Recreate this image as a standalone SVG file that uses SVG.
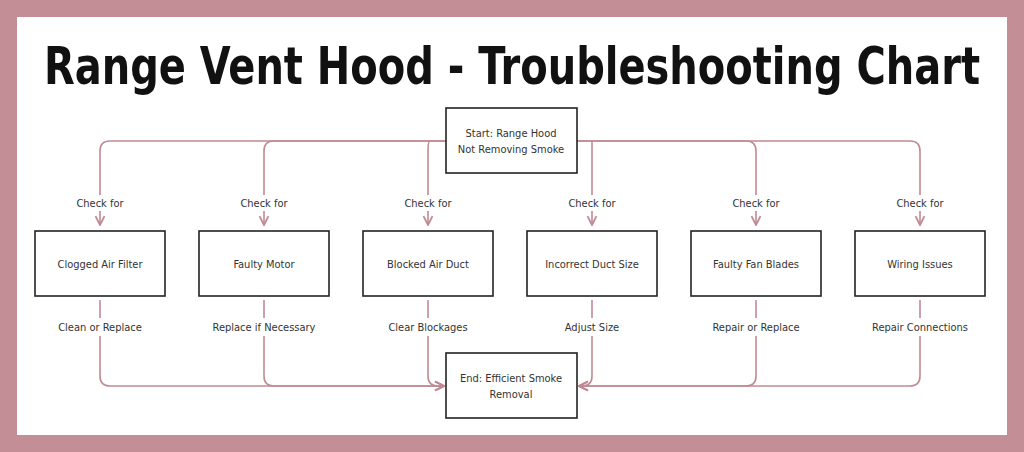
<svg xmlns="http://www.w3.org/2000/svg" width="1024" height="452" viewBox="0 0 1024 452">
<defs>
<style>
.n rect{fill:#fff;stroke:#222;stroke-width:1.6}
.n text,.l{font-family:"DejaVu Sans Condensed","Liberation Sans",sans-serif;font-size:11px;fill:#333;text-anchor:middle}
.c path{fill:none;stroke:#c08a93;stroke-width:1.6}
.t{font-family:"DejaVu Sans Condensed","Liberation Sans Narrow","Liberation Sans",sans-serif;font-weight:bold;font-size:52px;fill:#111;text-anchor:middle}
</style>
<marker id="a" viewBox="0 0 10 10" refX="9" refY="5" markerWidth="7" markerHeight="7" orient="auto"><path d="M1,1 L9,5 L1,9" fill="none" stroke="#c08a93" stroke-width="1.6"/></marker>
</defs>
<rect width="1024" height="452" fill="#c48e97"/>
<rect x="17" y="17" width="990" height="418" fill="#fff"/>
<text x="512" y="84" class="t" textLength="936" lengthAdjust="spacingAndGlyphs">Range Vent Hood - Troubleshooting Chart</text>
<g class="c">
<path d="M446,141 H110 Q100,141 100,151 V195"/>
<path d="M446,141 H274 Q264,141 264,151 V195"/>
<path d="M430,141 Q428,141 428,151 V195"/>
<path d="M577,141 H910 Q920,141 920,151 V195"/>
<path d="M577,141 H746 Q756,141 756,151 V195"/>
<path d="M592,141 Q592,141 592,151 V195"/>
<path d="M100,211 V225" marker-end="url(#a)"/><path d="M264,211 V225" marker-end="url(#a)"/><path d="M428,211 V225" marker-end="url(#a)"/><path d="M592,211 V225" marker-end="url(#a)"/><path d="M756,211 V225" marker-end="url(#a)"/><path d="M920,211 V225" marker-end="url(#a)"/>
<path d="M100,300 V318"/><path d="M264,300 V318"/><path d="M428,300 V318"/><path d="M592,300 V318"/><path d="M756,300 V318"/><path d="M920,300 V318"/>
<path d="M100,336 V376 Q100,386 110,386 H444" marker-end="url(#a)"/>
<path d="M264,336 V376 Q264,386 274,386 H444" marker-end="url(#a)"/>
<path d="M428,336 V376 Q428,386 438,386 H444" marker-end="url(#a)"/>
<path d="M920,336 V376 Q920,386 910,386 H579" marker-end="url(#a)"/>
<path d="M756,336 V376 Q756,386 746,386 H579" marker-end="url(#a)"/>
<path d="M592,336 V376 Q592,386 582,386 H579" marker-end="url(#a)"/>
</g>
<g class="l">
<text x="100" y="207" class="l">Check for</text><text x="264" y="207" class="l">Check for</text><text x="428" y="207" class="l">Check for</text><text x="592" y="207" class="l">Check for</text><text x="756" y="207" class="l">Check for</text><text x="920" y="207" class="l">Check for</text>
<text x="100" y="331" class="l">Clean or Replace</text><text x="264" y="331" class="l">Replace if Necessary</text><text x="428" y="331" class="l">Clear Blockages</text><text x="592" y="331" class="l">Adjust Size</text><text x="756" y="331" class="l">Repair or Replace</text><text x="920" y="331" class="l">Repair Connections</text>
</g>
<g id="start" class="n"><rect x="446" y="108" width="131" height="65"/><text x="511" y="137">Start: Range Hood</text><text x="511" y="153">Not Removing Smoke</text></g>
<g id="n1" class="n"><rect x="35" y="231" width="130" height="65"/><text x="100" y="268">Clogged Air Filter</text></g>
<g id="n2" class="n"><rect x="199" y="231" width="130" height="65"/><text x="264" y="268">Faulty Motor</text></g>
<g id="n3" class="n"><rect x="363" y="231" width="130" height="65"/><text x="428" y="268">Blocked Air Duct</text></g>
<g id="n4" class="n"><rect x="527" y="231" width="130" height="65"/><text x="592" y="268">Incorrect Duct Size</text></g>
<g id="n5" class="n"><rect x="691" y="231" width="130" height="65"/><text x="756" y="268">Faulty Fan Blades</text></g>
<g id="n6" class="n"><rect x="855" y="231" width="130" height="65"/><text x="920" y="268">Wiring Issues</text></g>
<g id="end" class="n"><rect x="446" y="353" width="131" height="65"/><text x="511" y="382">End: Efficient Smoke</text><text x="511" y="398">Removal</text></g>
</svg>
